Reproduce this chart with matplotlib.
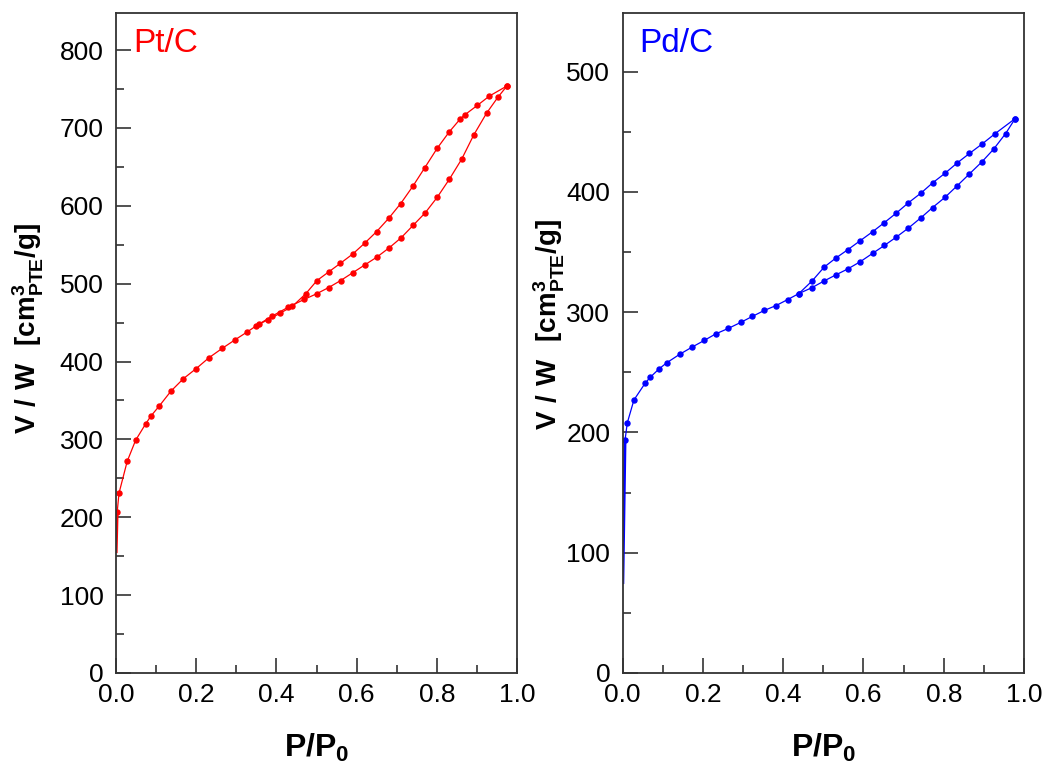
import matplotlib
matplotlib.use("Agg")
import matplotlib.pyplot as plt
from matplotlib.ticker import MultipleLocator

plt.rcParams["font.family"] = ["Liberation Sans", "DejaVu Sans"]
plt.rcParams["mathtext.fontset"] = "custom"
plt.rcParams["mathtext.rm"] = "Liberation Sans"
plt.rcParams["mathtext.bf"] = "Liberation Sans:bold"

# Pt/C isotherm: adsorption (lower branch) and desorption (upper branch)
pt_ads_p = [0.0005, 0.003, 0.0075, 0.028, 0.049, 0.074, 0.087, 0.108, 0.137, 0.168,
            0.200, 0.232, 0.265, 0.297, 0.327, 0.350, 0.388, 0.430, 0.470, 0.500,
            0.530, 0.560, 0.590, 0.620, 0.650, 0.681, 0.711, 0.741, 0.771, 0.801,
            0.831, 0.862, 0.892, 0.924, 0.953, 0.975]
pt_ads_v = [154, 207, 231, 272, 299, 320, 330, 343, 362, 378,
            391, 405, 417, 428, 438, 446, 458, 470, 480, 487,
            495, 504, 514, 524, 534, 546, 559, 575, 591, 611,
            634, 660, 691, 719, 740, 754]
pt_des_p = [0.975, 0.931, 0.901, 0.870, 0.859, 0.831, 0.801, 0.770, 0.740, 0.710,
            0.680, 0.650, 0.620, 0.590, 0.559, 0.530, 0.501, 0.473, 0.440, 0.409,
            0.380, 0.357]
pt_des_v = [754, 741, 729, 717, 712, 695, 674, 649, 625, 603,
            584, 567, 552, 538, 526, 515, 504, 487, 471, 462,
            454, 448]

# Pd/C isotherm
pd_ads_p = [0.0005, 0.006, 0.0115, 0.028, 0.056, 0.069, 0.091, 0.110, 0.142, 0.173,
            0.203, 0.232, 0.263, 0.294, 0.323, 0.353, 0.382, 0.411, 0.439, 0.472,
            0.502, 0.531, 0.561, 0.592, 0.623, 0.652, 0.682, 0.712, 0.743, 0.772,
            0.803, 0.833, 0.864, 0.895, 0.924, 0.954, 0.978]
pd_ads_v = [74, 194, 208, 227, 241, 246, 253, 258, 265, 271,
            276.5, 282, 286.5, 291.5, 296.5, 301.5, 305.5, 310.5, 315.5, 320.5,
            326, 331, 336, 342, 349, 355.5, 362.5, 370, 378.5, 387,
            395.5, 405, 415, 425, 435.5, 448.5, 461]
pd_des_p = [0.978, 0.928, 0.896, 0.864, 0.833, 0.803, 0.772, 0.743, 0.712, 0.682,
            0.652, 0.623, 0.592, 0.561, 0.531, 0.502, 0.472, 0.439]
pd_des_v = [461, 448.5, 440, 432, 424, 415.5, 407.5, 399, 391, 382.5,
            374.5, 367, 359.5, 352, 345, 337.5, 326, 315.5]

x_ticks = [0.0, 0.2, 0.4, 0.6, 0.8, 1.0]
x_tick_labels = ["0.0", "0.2", "0.4", "0.6", "0.8", "1.0"]

fig = plt.figure(figsize=(10.46, 7.68), dpi=100)
ax_pt = fig.add_axes([0.1109, 0.1237, 0.3834, 0.8597])
ax_pd = fig.add_axes([0.5953, 0.1237, 0.3837, 0.8597])

ylabel = r"$\mathbf{V\ /\ W\ \ [cm^3_{PTE}/g]}$"
xlabel = r"$\mathbf{P/P_0}$"

panels = [
    (ax_pt, pt_ads_p, pt_ads_v, pt_des_p, pt_des_v, "#ff0000", "Pt/C", 848),
    (ax_pd, pd_ads_p, pd_ads_v, pd_des_p, pd_des_v, "#0000ff", "Pd/C", 549),
]

for ax, ap, av, dp, dv, col, name, ytop in panels:
    # steep low-pressure uptake drawn as a heavier line without a marker at its foot
    ax.plot(ap[:2], av[:2], color=col, lw=2.0, solid_capstyle="butt")
    ax.plot(ap[1:], av[1:], color=col, lw=0.9, marker="o", ms=3.6, mec=col, mfc=col)
    ax.plot(dp, dv, color=col, lw=0.9, marker="o", ms=3.6, mec=col, mfc=col)
    ax.set_xlim(0, 1.0)
    ax.set_ylim(0, ytop)
    ax.set_xticks(x_ticks)
    ax.set_xticklabels(x_tick_labels)
    ax.xaxis.set_minor_locator(MultipleLocator(0.1))
    ax.yaxis.set_major_locator(MultipleLocator(100))
    ax.yaxis.set_minor_locator(MultipleLocator(50))
    ax.tick_params(which="both", direction="in", top=False, right=False,
                   labelsize=19, labelcolor="black", color="#333333", width=1.2)
    ax.tick_params(which="major", length=11)
    ax.tick_params(which="minor", length=6)
    ax.tick_params(axis="x", which="major", pad=7)
    ax.tick_params(axis="y", which="major", pad=9)
    for sp in ax.spines.values():
        sp.set_color("#333333")
        sp.set_linewidth(1.3)
    ax.text(0.042, 0.977, name, transform=ax.transAxes, color=col,
            fontsize=24, ha="left", va="top")
    ax.set_xlabel(xlabel, fontsize=23, labelpad=18)

fig.text(0.027, 0.572, ylabel, rotation=90, fontsize=20, ha="center", va="center")
fig.text(0.525, 0.577, ylabel, rotation=90, fontsize=20, ha="center", va="center")

fig.savefig("out.png", dpi=100)
